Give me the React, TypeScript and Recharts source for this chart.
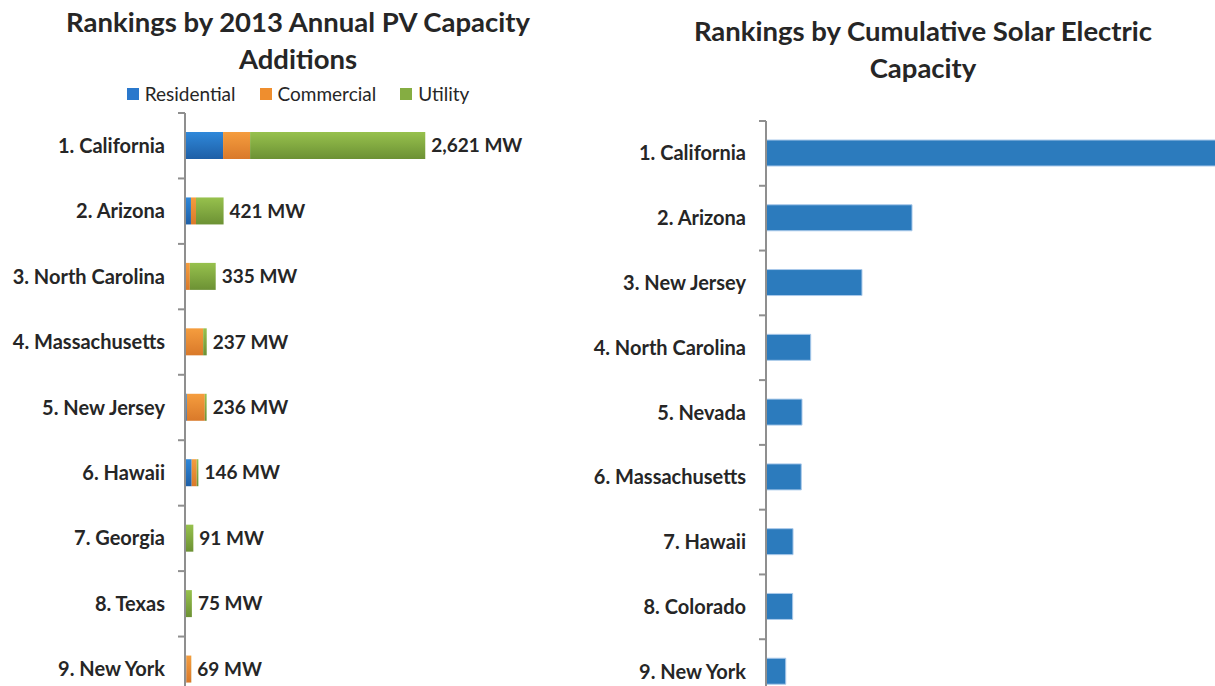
import React from 'react';
import { BarChart, Bar, XAxis, YAxis, LabelList } from 'recharts';

// ---- Left chart data: 2013 annual PV capacity additions (MW) ----
const annualStates = [
  '1. California',
  '2. Arizona',
  '3. North Carolina',
  '4. Massachusetts',
  '5. New Jersey',
  '6. Hawaii',
  '7. Georgia',
  '8. Texas',
  '9. New York',
];
const residentialMW = [415, 65, 3, 8, 20, 73, 1, 1, 14];
const commercialMW = [295, 55, 50, 190, 196, 55, 4, 2, 54];
const utilityMW = [1911, 301, 282, 39, 20, 18, 86, 72, 1];
const annualTotalMW = [2621, 421, 335, 237, 236, 146, 91, 75, 69];

// ---- Right chart data: cumulative solar electric capacity (MW) ----
const cumulativeStates = [
  '1. California',
  '2. Arizona',
  '3. New Jersey',
  '4. North Carolina',
  '5. Nevada',
  '6. Massachusetts',
  '7. Hawaii',
  '8. Colorado',
  '9. New York',
];
const cumulativeMW = [5661, 1561, 1026, 478, 385, 377, 289, 285, 211];

const seriesNames = ['Residential', 'Commercial', 'Utility'];
const seriesColors: Record<string, string> = {
  Residential: '#2a78cc',
  Commercial: '#ef8e2e',
  Utility: '#85ad42',
};

const annualData = annualStates.map((state, i) => ({
  state,
  residential: residentialMW[i],
  commercial: commercialMW[i],
  utility: utilityMW[i],
  total: annualTotalMW[i],
}));

const cumulativeData = cumulativeStates.map((state, i) => ({
  state,
  mw: cumulativeMW[i],
}));

const FONT = "Lato, 'Open Sans', 'DejaVu Sans', sans-serif";
const TEXT = '#262626';
const AXIS = '#8f8f8f';
const TICK_SIZE = 7;
const TICK_MARGIN = 13;

const CategoryTick = (props: any) => {
  const { x, y, payload } = props;
  const off = payload && typeof payload.offset === 'number' ? payload.offset : 0;
  const axisX = x + TICK_MARGIN + TICK_SIZE;
  return (
    <g>
      <line
        x1={axisX - TICK_SIZE}
        x2={axisX}
        y1={y - off}
        y2={y - off}
        stroke={AXIS}
        strokeWidth={2}
      />
      <text
        x={x}
        y={y}
        dy="0.35em"
        textAnchor="end"
        fill={TEXT}
        fontFamily={FONT}
        fontWeight={700}
        fontSize={20}
      >
        {payload.value}
      </text>
    </g>
  );
};

const titleStyle: React.CSSProperties = {
  position: 'absolute',
  fontFamily: FONT,
  fontWeight: 700,
  fontSize: 27.5,
  lineHeight: '37px',
  color: TEXT,
  textAlign: 'center',
};

export default function App() {
  return (
    <div
      style={{
        position: 'fixed',
        left: 0,
        top: 0,
        width: 1215,
        height: 686,
        overflow: 'hidden',
        background: '#ffffff',
      }}
    >
      {/* Left chart */}
      <div style={{ ...titleStyle, left: 0, top: 3, width: 596 }}>
        Rankings by 2013 Annual PV Capacity
        <br />
        Additions
      </div>
      <div
        style={{
          position: 'absolute',
          left: 0,
          top: 82,
          width: 596,
          display: 'flex',
          justifyContent: 'center',
          alignItems: 'center',
          gap: 24,
          fontFamily: FONT,
          fontSize: 19,
          lineHeight: '24px',
          color: TEXT,
        }}
      >
        {seriesNames.map((n) => (
          <div key={n} style={{ display: 'flex', alignItems: 'center' }}>
            <span
              style={{
                display: 'inline-block',
                width: 12,
                height: 12,
                background: seriesColors[n],
                marginRight: 6,
              }}
            />
            <span>{n}</span>
          </div>
        ))}
      </div>
      <div style={{ position: 'absolute', left: 0, top: 0 }}>
        <BarChart
          width={590}
          height={702}
          data={annualData}
          layout="vertical"
          margin={{ top: 113, right: 130, bottom: 0, left: 0 }}
        >
          <defs>
            <linearGradient id="gRes" x1="0" y1="0" x2="0" y2="1">
              <stop offset="0%" stopColor="#2f88da" />
              <stop offset="100%" stopColor="#1e5fa6" />
            </linearGradient>
            <linearGradient id="gCom" x1="0" y1="0" x2="0" y2="1">
              <stop offset="0%" stopColor="#f59d3e" />
              <stop offset="100%" stopColor="#d9792a" />
            </linearGradient>
            <linearGradient id="gUti" x1="0" y1="0" x2="0" y2="1">
              <stop offset="0%" stopColor="#97c14d" />
              <stop offset="100%" stopColor="#6c9134" />
            </linearGradient>
          </defs>
          <XAxis type="number" domain={[0, 3000]} hide />
          <YAxis
            type="category"
            dataKey="state"
            width={185}
            axisLine={{ stroke: AXIS, strokeWidth: 2 }}
            tickLine={false}
            tickSize={TICK_SIZE}
            tickMargin={TICK_MARGIN}
            tick={<CategoryTick />}
            interval={0}
          />
          <Bar
            dataKey="residential"
            name="Residential"
            stackId="a"
            fill="url(#gRes)"
            barSize={27}
            isAnimationActive={false}
          />
          <Bar
            dataKey="commercial"
            name="Commercial"
            stackId="a"
            fill="url(#gCom)"
            barSize={27}
            isAnimationActive={false}
          />
          <Bar
            dataKey="utility"
            name="Utility"
            stackId="a"
            fill="url(#gUti)"
            barSize={27}
            isAnimationActive={false}
          >
            <LabelList
              dataKey="total"
              position="right"
              offset={6}
              fill={TEXT}
              fontFamily={FONT}
              fontWeight={700}
              fontSize={19}
              formatter={(v: any) => `${Number(v).toLocaleString('en-US')} MW`}
            />
          </Bar>
        </BarChart>
      </div>

      {/* Right chart */}
      <div style={{ ...titleStyle, left: 623, top: 12, width: 600 }}>
        Rankings by Cumulative Solar Electric
        <br />
        Capacity
      </div>
      <div style={{ position: 'absolute', left: 580, top: 0 }}>
        <BarChart
          width={635}
          height={704}
          data={cumulativeData}
          layout="vertical"
          margin={{ top: 121, right: 0, bottom: 0, left: 0 }}
        >
          <XAxis type="number" domain={[0, 4800]} allowDataOverflow hide />
          <YAxis
            type="category"
            dataKey="state"
            width={186}
            axisLine={{ stroke: AXIS, strokeWidth: 2 }}
            tickLine={false}
            tickSize={TICK_SIZE}
            tickMargin={TICK_MARGIN}
            tick={<CategoryTick />}
            interval={0}
          />
          <Bar
            dataKey="mw"
            fill="#2c7bbd"
            stroke="#a9c9ea"
            strokeWidth={1}
            barSize={26}
            isAnimationActive={false}
          />
        </BarChart>
      </div>
    </div>
  );
}
